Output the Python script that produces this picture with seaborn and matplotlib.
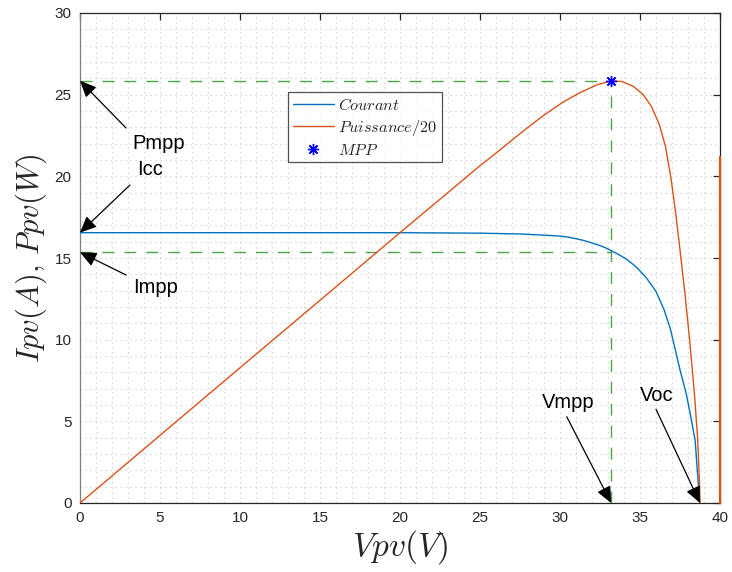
import numpy as np
import pandas as pd
import matplotlib
matplotlib.use("Agg")
import matplotlib.pyplot as plt
import seaborn as sns
from matplotlib.ticker import MultipleLocator

# values
v_current = [0, 5, 10, 15, 20, 25, 27.5, 29, 30, 30.5, 31, 31.5, 32, 32.5, 32.9,
             33.2, 33.6, 34.2, 34.8, 35.4, 36.0, 36.5, 36.9, 37.2, 37.5, 37.9,
             38.2, 38.45, 38.58, 38.71, 38.75]
i_current = [16.55, 16.55, 16.55, 16.55, 16.55, 16.52, 16.47, 16.40, 16.34, 16.28,
             16.18, 16.07, 15.92, 15.76, 15.60, 15.45, 15.25, 14.90, 14.42, 13.78,
             12.95, 11.85, 10.65, 9.40, 8.15, 6.65, 5.15, 3.8, 2.0, 0.4, 0.0]

v_power = [0, 5, 10, 15, 20, 25, 26, 27, 28, 29, 30.2, 31.25, 32.3, 33.2, 33.9,
           34.6, 35.2, 35.7, 36.2, 36.6, 36.95, 37.25, 37.5, 37.8, 38.1, 38.4,
           38.6, 38.72, 38.75]
p_power = [0, 4.14, 8.28, 12.41, 16.55, 20.65, 21.42, 22.22, 23.0, 23.75, 24.55,
           25.12, 25.6, 25.85, 25.8, 25.5, 25.0, 24.3, 23.2, 21.8, 19.8, 17.6,
           15.5, 12.9, 10.0, 6.7, 4.0, 1.2, 0.0]

# stray last segment of the power trace at the right edge
v_edge = [40, 40]
p_edge = [0, 21.2]

v_mpp = 33.2
p_mpp = 25.85
i_mpp = 15.35
i_cc = 16.55
v_oc = 38.75

BLUE = "#0072BD"
ORANGE = "#D95319"
GREEN = "#1f8f1f"

sns.set_style("white")
plt.rcParams["font.family"] = ["Liberation Sans", "DejaVu Sans"]
plt.rcParams["mathtext.fontset"] = "cm"

fig = plt.figure(figsize=(7.32, 5.72), dpi=100)
ax = fig.add_axes([80 / 732, 69 / 572, 640 / 732, 490 / 572])

dash = dict(color=GREEN, lw=1.0, dashes=(8.6, 7.2), alpha=0.8, zorder=2)
ax.plot([0, v_mpp], [p_mpp, p_mpp], **dash)
ax.plot([0, v_mpp], [i_mpp, i_mpp], **dash)
ax.plot([v_mpp, v_mpp], [0, p_mpp], **dash)

sns.lineplot(x=v_current, y=i_current, ax=ax, color=BLUE, lw=1.0,
             estimator=None, sort=False, label=r"$Courant$", zorder=3)
sns.lineplot(x=v_power, y=p_power, ax=ax, color=ORANGE, lw=1.0,
             estimator=None, sort=False, label=r"$Puissance/20$", zorder=3)
sns.lineplot(x=v_edge, y=p_edge, ax=ax, color=ORANGE, lw=1.6,
             estimator=None, sort=False, zorder=10, clip_on=False)
ax.plot([v_mpp], [p_mpp], linestyle="none", marker=(8, 2, 0), markersize=8,
        markeredgewidth=1.0, color="blue", label=r"$MPP$", zorder=5)

ax.set_xlim(0, 40)
ax.set_ylim(0, 30)
ax.xaxis.set_major_locator(MultipleLocator(5))
ax.yaxis.set_major_locator(MultipleLocator(5))
ax.xaxis.set_minor_locator(MultipleLocator(1))
ax.yaxis.set_minor_locator(MultipleLocator(1))
ax.grid(which="both", linestyle=(0, (1, 3.5)), color="#c6c6c6", lw=0.8)
ax.set_axisbelow(True)
ax.tick_params(which="major", direction="in", length=5, width=0.9,
               top=True, right=True, labelsize=11, colors="#262626", pad=6)
ax.tick_params(which="minor", length=0)
for s in ax.spines.values():
    s.set_color("#262626")
    s.set_linewidth(0.9)
ax.spines["left"].set_color("#808080")

ax.set_xlabel(r"$Vpv(V)$", fontsize=24, labelpad=2)
ax.set_ylabel(r"$Ipv(A),\,Ppv(W)$", fontsize=22, labelpad=4)

leg = ax.legend(loc="upper left", bbox_to_anchor=(0.325, 0.839), fontsize=11.7,
                frameon=True, fancybox=False, edgecolor="#262626",
                handlelength=2.5, borderpad=0.3, labelspacing=0.3,
                handletextpad=0.3, borderaxespad=0)
leg.get_frame().set_linewidth(0.9)

arrow = dict(arrowstyle="-|>,head_length=1.0,head_width=0.45", color="black",
             lw=0.9, shrinkA=0, shrinkB=0)
notes = [
    ("Pmpp", (0, p_mpp), (2.875, 22.96), (3.3, 22.0)),
    ("Icc", (0, i_cc), (3.125, 19.47), (3.6, 20.4)),
    ("Impp", (0, i_mpp), (2.875, 13.96), (3.35, 13.2)),
    ("Vmpp", (v_mpp, 0), (30.42, 5.28), (28.85, 6.15)),
    ("Voc", (v_oc, 0), (36.0, 5.74), (35.0, 6.6)),
]
for label, tip, tail, txt in notes:
    ax.annotate("", xy=tip, xytext=tail, arrowprops=arrow, zorder=6)
    ax.text(txt[0], txt[1], label, fontsize=14.5, va="center", ha="left",
            color="black", zorder=6)

fig.savefig("out.png", dpi=100)
